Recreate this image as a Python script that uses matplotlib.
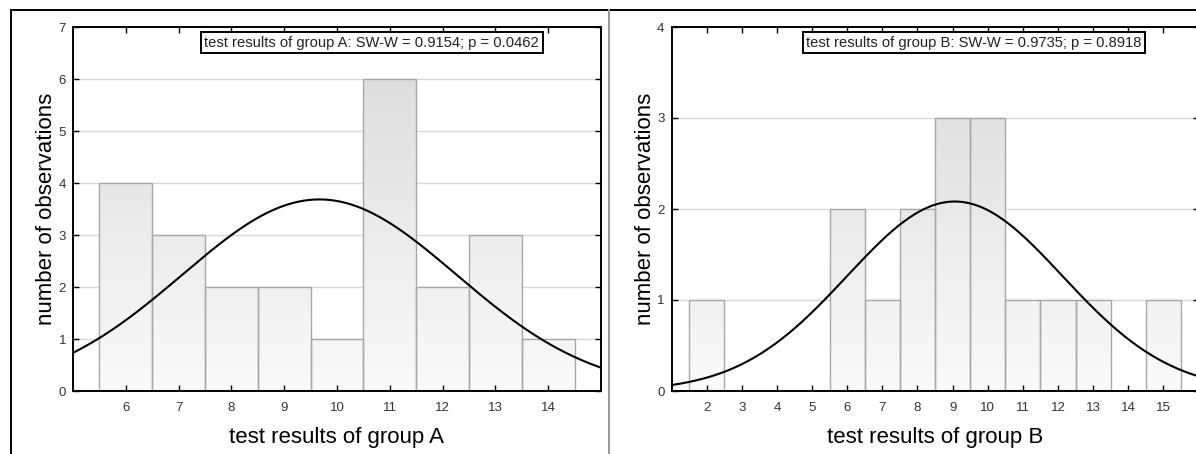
import numpy as np
import matplotlib
matplotlib.use("Agg")
import matplotlib.pyplot as plt
from matplotlib.colors import LinearSegmentedColormap
from matplotlib.lines import Line2D

plt.rcParams['font.family'] = ['Liberation Sans', 'DejaVu Sans']

# group A histogram
scores_a = [6, 7, 8, 9, 10, 11, 12, 13, 14]
counts_a = [4, 3, 2, 2, 1, 6, 2, 3, 1]
label_a = "test results of group A: SW-W = 0.9154; p = 0.0462"

# group B histogram
scores_b = [2, 6, 7, 8, 9, 10, 11, 12, 13, 15]
counts_b = [1, 2, 1, 2, 3, 3, 1, 1, 1, 1]
label_b = "test results of group B: SW-W = 0.9735; p = 0.8918"

W, H = 1196, 454
grad = LinearSegmentedColormap.from_list("bars", ["#fafafa", "#d9d9d9"])


# draws one histogram panel with its fitted normal curve
def draw_panel(ax, scores, counts, xlim, ymax, xticks, box_text, box_x, xlabel):
    scores = np.array(scores, dtype=float)
    counts = np.array(counts, dtype=float)
    for y in range(1, ymax):
        ax.axhline(y, color='#d9d9d9', lw=1, zorder=0.5)

    bars = ax.bar(scores, counts, width=1.0, facecolor='none',
                  edgecolor='#a8a8a8', linewidth=1, zorder=2)
    img = np.linspace(0, 1, 256).reshape(-1, 1)
    for b in bars:
        x0 = b.get_x()
        im = ax.imshow(img, cmap=grad, origin='lower', aspect='auto',
                       extent=[x0, x0 + 1, 0, ymax], zorder=1.5,
                       interpolation='bilinear')
        im.set_clip_path(b)
    ax.set_xlim(*xlim)
    ax.set_ylim(0, ymax)

    # normal curve from mean / sd of the binned data
    n = counts.sum()
    mean = (scores * counts).sum() / n
    sd = np.sqrt(((scores - mean) ** 2 * counts).sum() / (n - 1))
    xs = np.linspace(xlim[0], xlim[1], 400)
    ys = n / (sd * np.sqrt(2 * np.pi)) * np.exp(-(xs - mean) ** 2 / (2 * sd ** 2))
    ax.plot(xs, ys, color='black', lw=1.5, zorder=3)

    ax.set_xticks(xticks)
    ax.set_yticks(range(0, ymax + 1))
    ax.tick_params(direction='in', length=4, width=1, top=True, right=True,
                   labelsize=9.5, labelcolor='#333333')
    ax.tick_params(axis='x', pad=8)
    ax.tick_params(axis='y', pad=5)
    for s in ax.spines.values():
        s.set_linewidth(1.4)

    ax.set_xlabel(xlabel, fontsize=16)
    ax.xaxis.set_label_coords(0.5, -0.1)
    ax.set_ylabel("number of observations", fontsize=16)
    ax.yaxis.set_label_coords(-0.03, 0.5)
    ax.yaxis.label.set_va('bottom')

    ax.text(box_x, 0.976, box_text, transform=ax.transAxes, fontsize=10.6,
            ha='left', va='top', color='#222222', zorder=5,
            bbox=dict(boxstyle='square,pad=0.25', facecolor='white',
                      edgecolor='black', linewidth=1.4))


fig = plt.figure(figsize=(W / 100, H / 100), dpi=100)
bottom = (H - 391) / H
height = (391 - 27) / H
ax_a = fig.add_axes([73 / W, bottom, (601 - 73) / W, height])
ax_b = fig.add_axes([671.5 / W, bottom, (1198.6 - 671.5) / W, height])

draw_panel(ax_a, scores_a, counts_a, (5, 15), 7, range(6, 15), label_a, 0.249,
           "test results of group A")
draw_panel(ax_b, scores_b, counts_b, (1, 16), 4, range(2, 16), label_b, 0.256,
           "test results of group B")

# outer frame and divider
top = 1 - 10 / H
fig.add_artist(Line2D([11 / W, 1], [top, top], color='black', lw=1.4))
fig.add_artist(Line2D([11 / W, 11 / W], [0, top], color='black', lw=1.4))
fig.add_artist(Line2D([609 / W, 609 / W], [0, top], color='#9a9a9a', lw=1.5))

fig.savefig("out.png", dpi=100)
